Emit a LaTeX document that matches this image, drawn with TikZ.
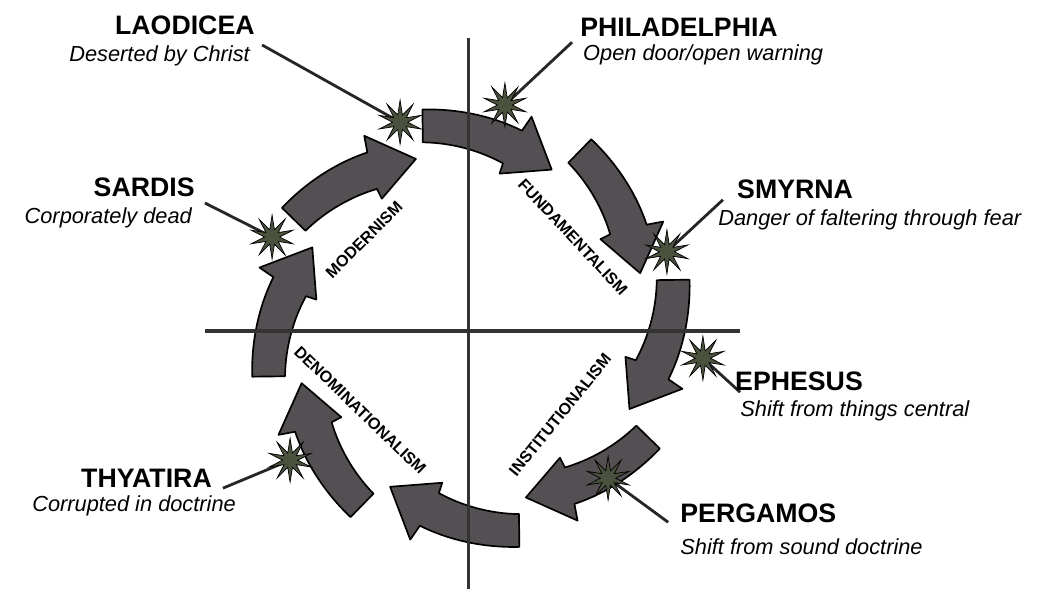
\documentclass[tikz,border=0pt]{standalone}
\usepackage{fontspec}
\setmainfont{Liberation Sans}
\usetikzlibrary{shapes.geometric}
\pgfdeclarelayer{background}
\pgfsetlayers{background,main}

\definecolor{arrowfill}{RGB}{84,79,82}
\definecolor{starfill}{RGB}{74,82,62}

\tikzset{
  church/.style={inner sep=0pt, font=\fontsize{19}{22}\selectfont\bfseries},
  note/.style={inner sep=0pt, font=\fontsize{15.5}{18}\selectfont\itshape},
  era/.style={inner sep=0pt, font=\fontsize{11.5}{13}\selectfont\bfseries},
  burst/.style={star, star points=10, star point ratio=2.9, minimum size=1.1cm, inner sep=0pt, fill=starfill, draw=black, line width=0.5pt},
  lead/.style={line width=2pt, black!85},
  axis/.style={line width=2.2pt, black!80},
  bigarrow/.style={fill=arrowfill, draw=black, line width=1.2pt, line join=round}
}

\begin{document}
\begin{tikzpicture}[scale=1.0]
\useasboundingbox (-11.7125,-6.45) rectangle (14.2125,8.275);

\coordinate (V1) at (0,7.33);
\coordinate (V2) at (0,-6.45);
\coordinate (H1) at (-6.59,0);
\coordinate (H2) at (6.79,0);

% ring of arrows, clockwise
\foreach \a in {102.5,57.5,12.5,-32.5,-77.5,-122.5,-167.5,147.5}{
\filldraw[bigarrow,shift={(0.06,0.07)},rotate=\a] (0:5.6) .. controls (-9.2:5.5) and (-18.4:5.33) .. (-27:5.1) -- (-28.5:5.5) -- (-39.5:4.45) -- (-23:3.93) -- (-23.5:4.2) .. controls (-15.5:4.44) and (-6.8:4.66) .. (2:4.8) -- cycle;
}

\draw[axis] (V1) -- (V2);
\draw[axis] (H1) -- (H2);

\node[era, rotate=45] (M1) at (-2.61,2.28) {MODERNISM};
\node[era, rotate=-47] (M2) at (2.61,2.35) {FUNDAMENTALISM};
\node[era, rotate=51] (M3) at (2.29,-2.1) {INSTITUTIONALISM};
\node[era, rotate=-44] (M4) at (-2.71,-1.98) {DENOMINATIONALISM};

% churches
\node[church, anchor=east] (T1) at (-5.34,7.65) {LAODICEA};
\node[note, anchor=east] (N1) at (-5.46,6.88) {Deserted by Christ};
\node[church, anchor=west] (T2) at (2.79,7.59) {PHILADELPHIA};
\node[note, anchor=west] (N2) at (2.86,6.9) {Open door/open warning};
\node[church, anchor=west] (T3) at (6.71,3.53) {SMYRNA};
\node[note, anchor=west] (N3) at (6.24,2.78) {Danger of faltering through fear};
\node[church, anchor=west] (T4) at (6.66,-1.25) {EPHESUS};
\node[note, anchor=west] (N4) at (6.79,-2.0) {Shift from things central};
\node[church, anchor=west] (T5) at (5.29,-4.55) {PERGAMOS};
\node[note, anchor=west] (N5) at (5.29,-5.4) {Shift from sound doctrine};
\node[church, anchor=east] (T6) at (-6.41,-3.68) {THYATIRA};
\node[note, anchor=east] (N6) at (-5.81,-4.38) {Corrupted in doctrine};
\node[church, anchor=east] (T7) at (-6.84,3.6) {SARDIS};
\node[note, anchor=east] (N7) at (-6.91,2.83) {Corporately dead};

\node[burst] (S1) at (-1.71,5.22) {};
\node[burst] (S2) at (0.91,5.65) {};
\node[burst] (S3) at (4.96,1.98) {};
\node[burst] (S4) at (5.86,-0.68) {};
\node[burst] (S5) at (3.49,-3.68) {};
\node[burst] (S6) at (-4.46,-3.23) {};
\node[burst] (S7) at (-4.91,2.35) {};

\coordinate (E1) at (-5.16,7.15);
\coordinate (E2) at (2.59,7.22);
\coordinate (E3) at (6.36,3.28);
\coordinate (E4) at (6.79,-1.53);
\coordinate (E5) at (4.99,-4.78);
\coordinate (E6) at (-6.14,-3.93);
\coordinate (E7) at (-6.59,3.2);

\begin{pgfonlayer}{background}
\draw[lead] (E1) -- (S1.center);
\draw[lead] (E2) -- (S2.center);
\draw[lead] (E3) -- (S3.center);
\draw[lead] (E4) -- (S4.center);
\draw[lead] (E5) -- (S5.center);
\draw[lead] (E6) -- (S6.center);
\draw[lead] (E7) -- (S7.center);
\end{pgfonlayer}
\end{tikzpicture}
\end{document}
